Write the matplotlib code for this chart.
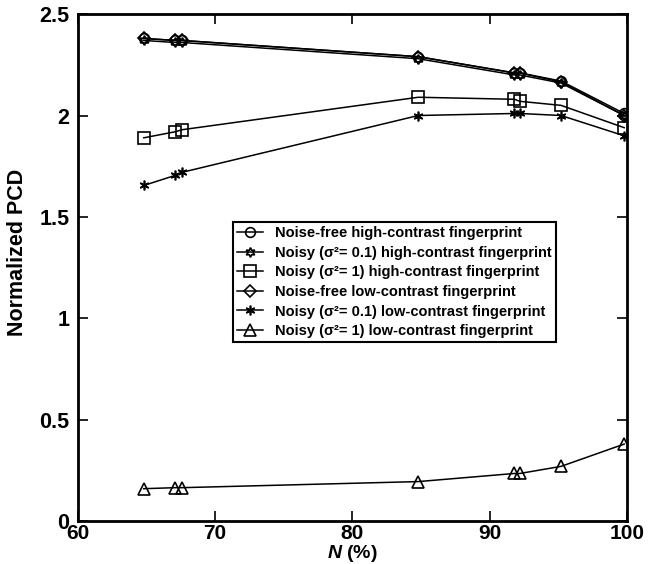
import matplotlib
matplotlib.use("Agg")
import matplotlib.pyplot as plt

plt.rcParams['font.family'] = ['Liberation Sans', 'DejaVu Sans']
plt.rcParams['font.weight'] = 'bold'
plt.rcParams['mathtext.fontset'] = 'custom'
plt.rcParams['mathtext.it'] = 'Liberation Sans:italic:bold'
plt.rcParams['mathtext.rm'] = 'Liberation Sans:bold'
plt.rcParams['mathtext.default'] = 'regular'

N = [64.8, 67.1, 67.6, 84.8, 91.8, 92.2, 95.2, 99.8]
free_high = [2.38, 2.37, 2.37, 2.29, 2.21, 2.21, 2.17, 2.01]
noisy01_high = [2.37, 2.36, 2.36, 2.28, 2.20, 2.20, 2.16, 2.00]
noisy1_high = [1.89, 1.92, 1.93, 2.09, 2.08, 2.07, 2.05, 1.94]
free_low = [2.38, 2.37, 2.37, 2.29, 2.21, 2.21, 2.165, 2.00]
noisy01_low = [1.655, 1.705, 1.72, 2.00, 2.01, 2.01, 2.00, 1.90]
noisy1_low = [0.16, 0.165, 0.165, 0.195, 0.235, 0.235, 0.27, 0.38]

labels = [
    "Noise-free high-contrast fingerprint",
    "Noisy (\u03c3\u00b2= 0.1) high-contrast fingerprint",
    "Noisy (\u03c3\u00b2= 1) high-contrast fingerprint",
    "Noise-free low-contrast fingerprint",
    "Noisy (\u03c3\u00b2= 0.1) low-contrast fingerprint",
    "Noisy (\u03c3\u00b2= 1) low-contrast fingerprint",
]
series = [free_high, noisy01_high, noisy1_high, free_low, noisy01_low, noisy1_low]
markers = ['o', (6, 1, 0), 's', 'D', (6, 2, 0), '^']
msizes = [7, 7, 8, 6, 7, 8]

fig = plt.figure(figsize=(6.49, 5.64), dpi=100)
ax = fig.add_axes([0.120, 0.076, 0.846, 0.899])

for ys, m, ms, lab in zip(series, markers, msizes, labels):
    ax.plot(N, ys, color='black', linewidth=1.1, marker=m, markersize=ms,
            markerfacecolor='none', markeredgecolor='black', markeredgewidth=1.2,
            label=lab)

ax.set_xlim(60, 100)
ax.set_ylim(0, 2.5)
ax.set_xticks([60, 70, 80, 90, 100])
ax.set_yticks([0, 0.5, 1, 1.5, 2, 2.5])
ax.set_yticklabels(['0', '0.5', '1', '1.5', '2', '2.5'])
ax.tick_params(direction='in', length=7, width=1.2, top=True, right=True,
               labelsize=15.5)
ax.tick_params(axis='x', pad=2, labelsize=15)
ax.tick_params(axis='y', pad=6)
for lbl in ax.get_xticklabels() + ax.get_yticklabels():
    lbl.set_fontweight('bold')
for s in ax.spines.values():
    s.set_linewidth(2)

ax.set_xlabel("$\\mathit{N}$ (%)", fontsize=14, fontweight='bold')
ax.xaxis.set_label_coords(0.5, -0.043)
ax.set_ylabel("Normalized PCD", fontsize=15.5, fontweight='bold')
ax.yaxis.set_label_coords(-0.09, 0.53)

leg = ax.legend(loc='upper left', bbox_to_anchor=(0.282, 0.59), fontsize=10.5,
                frameon=True, fancybox=False, edgecolor='black', framealpha=1,
                handlelength=1.8, handletextpad=0.8, borderpad=0.3,
                labelspacing=0.38, borderaxespad=0)
leg.get_frame().set_linewidth(1.5)
for t in leg.get_texts():
    t.set_fontweight('bold')

fig.savefig("out.png", dpi=100)
